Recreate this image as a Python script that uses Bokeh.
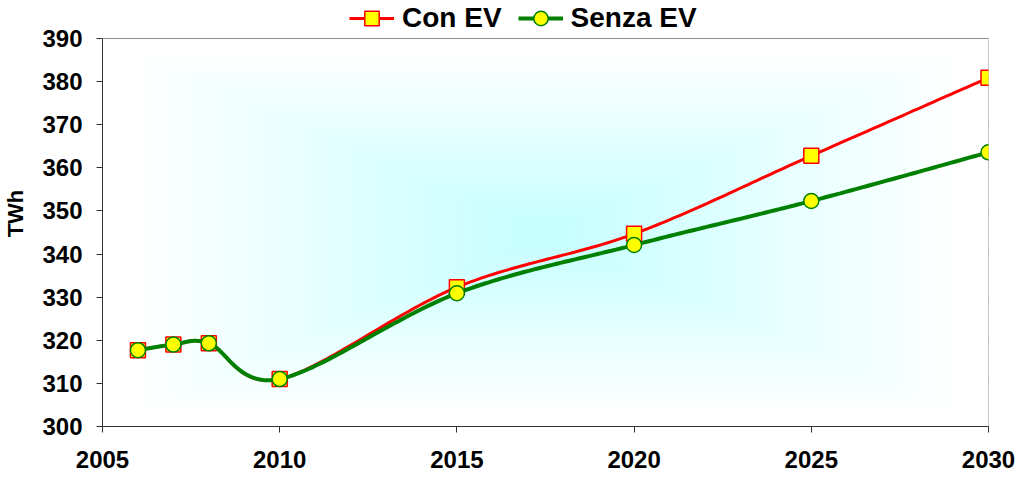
import numpy as np
from bokeh.plotting import figure
from bokeh.models import FixedTicker, Legend, LegendItem, Span
from bokeh.embed import file_html
from bokeh.resources import INLINE

# ---- data ----
years = [2006, 2007, 2008, 2010, 2015, 2020, 2025, 2030]
con_ev = [317.7, 319.0, 319.3, 311.0, 332.3, 344.7, 362.8, 380.9]
senza_ev = [317.7, 319.0, 319.3, 311.0, 330.9, 342.1, 352.3, 363.6]
x_ticks = [2005, 2010, 2015, 2020, 2025, 2030]
y_ticks = [300, 310, 320, 330, 340, 350, 360, 370, 380, 390]
series_names = ["Con EV", "Senza EV"]

X0, X1 = 2005, 2030
Y0, Y1 = 300, 390

W, H = 1020, 478
BL, BR, BB = 101, 32, 52
PLOT_TOP = 38                      # gap between canvas top and the 390 line
FW = W - BL - BR
FH = H - BB                        # frame reaches the canvas top (room for legend)
PH = FH - PLOT_TOP                 # height of the 300..390 plot area
Y_TOP = Y1 + PLOT_TOP * (Y1 - Y0) / PH

FONT = "Liberation Sans"
RED, GREEN, YELLOW = "#ff0000", "#008000", "#ffff00"
GRID = "#666666"
BORDER = "#8c8c8c"


def smooth(xs, ys, n=40):
    """Excel-like smoothed line (cubic Bezier / Catmull-Rom in screen space)."""
    sx = FW / (X1 - X0)
    sy = PH / (Y1 - Y0)
    P = np.column_stack([(np.asarray(xs, float) - X0) * sx,
                         (np.asarray(ys, float) - Y0) * sy])
    out = []
    m = len(P)
    for i in range(m - 1):
        p0 = P[max(i - 1, 0)]
        p1 = P[i]
        p2 = P[i + 1]
        p3 = P[min(i + 2, m - 1)]
        c1 = p1 + (p2 - p0) / 6.0
        c2 = p2 - (p3 - p1) / 6.0
        t = np.linspace(0, 1, n)[:, None]
        if i > 0:
            t = t[1:]
        b = ((1 - t) ** 3) * p1 + 3 * ((1 - t) ** 2) * t * c1 \
            + 3 * (1 - t) * (t ** 2) * c2 + (t ** 3) * p2
        out.append(b)
    B = np.vstack(out)
    return list(B[:, 0] / sx + X0), list(B[:, 1] / sy + Y0)


p = figure(width=W, height=H, x_range=(X0, X1), y_range=(Y0, Y_TOP),
           output_backend="svg", toolbar_location=None,
           min_border_left=BL, min_border_right=BR,
           min_border_top=0, min_border_bottom=BB,
           background_fill_color="white", border_fill_color="white",
           outline_line_color=None)

# rectangular "from center" gradient background of the plot area
GH, GW = 240, 480
u = np.abs(np.linspace(-1, 1, GW))[None, :]
v = np.abs(np.linspace(-1, 1, GH))[:, None]
t = np.clip(np.maximum(u, v) / 0.92, 0, 1)
center = np.array([197, 255, 255], float)
white = np.array([255, 255, 255], float)
img = np.empty((GH, GW), dtype=np.uint32)
view = img.view(dtype=np.uint8).reshape((GH, GW, 4))
for k in range(3):
    view[:, :, k] = (center[k] * (1 - t) + white[k] * t).astype(np.uint8)
view[:, :, 3] = 255
p.image_rgba(image=[img], x=X0, y=Y0, dw=X1 - X0, dh=Y1 - Y0)

p.xgrid.grid_line_color = None
p.ygrid.grid_line_color = GRID
p.ygrid.grid_line_width = 1
p.ygrid.ticker = FixedTicker(ticks=y_ticks[:-1])

# plot-area border (top and right)
p.add_layout(Span(location=Y1, dimension="width", line_color=BORDER, line_width=1))
p.segment(x0=[X1], y0=[Y0], x1=[X1], y1=[Y1], line_color=BORDER, line_width=1)

p.xaxis.ticker = FixedTicker(ticks=x_ticks)
p.yaxis.ticker = FixedTicker(ticks=y_ticks)
p.yaxis.bounds = (Y0, Y1)
for ax in (p.xaxis[0], p.yaxis[0]):
    ax.axis_line_color = "#333333"
    ax.axis_line_width = 1
    ax.major_tick_line_color = "#333333"
    ax.major_tick_in = 0
    ax.major_tick_out = 6
    ax.minor_tick_line_color = None
    ax.major_label_text_font = FONT
    ax.major_label_text_font_style = "bold"
    ax.major_label_text_font_size = "24px"
    ax.major_label_text_color = "black"
p.xaxis.major_label_standoff = 18
p.yaxis.major_label_standoff = 14
p.yaxis.axis_label = "TWh"
p.yaxis.axis_label_text_font = FONT
p.yaxis.axis_label_text_font_style = "bold"
p.yaxis.axis_label_text_font_size = "22px"
p.yaxis.axis_label_text_color = "black"
p.yaxis.axis_label_standoff = 11

cx, cy = smooth(years, con_ev)
sxs, sys_ = smooth(years, senza_ev)

r_line1 = p.line(cx, cy, line_color=RED, line_width=3)
r_mark1 = p.scatter(years, con_ev, marker="square", size=15,
                    fill_color=YELLOW, line_color=RED, line_width=1.5)
r_line2 = p.line(sxs, sys_, line_color=GREEN, line_width=4)
r_mark2 = p.scatter(years, senza_ev, marker="circle", size=15,
                    fill_color=YELLOW, line_color=GREEN, line_width=1.5)

LEG_GLYPH_H = 36
legend = Legend(items=[LegendItem(label=series_names[0], renderers=[r_line1, r_mark1]),
                       LegendItem(label=series_names[1], renderers=[r_line2, r_mark2])],
                orientation="horizontal", location=(247, FH - LEG_GLYPH_H),
                padding=0, margin=0, spacing=16, label_standoff=8,
                glyph_width=45, glyph_height=LEG_GLYPH_H,
                label_text_font=FONT, label_text_font_style="bold",
                label_text_font_size="28px", label_text_color="black",
                border_line_color=None, background_fill_alpha=0)
p.add_layout(legend, "center")

open("out.html", "w").write(file_html(p, INLINE))
